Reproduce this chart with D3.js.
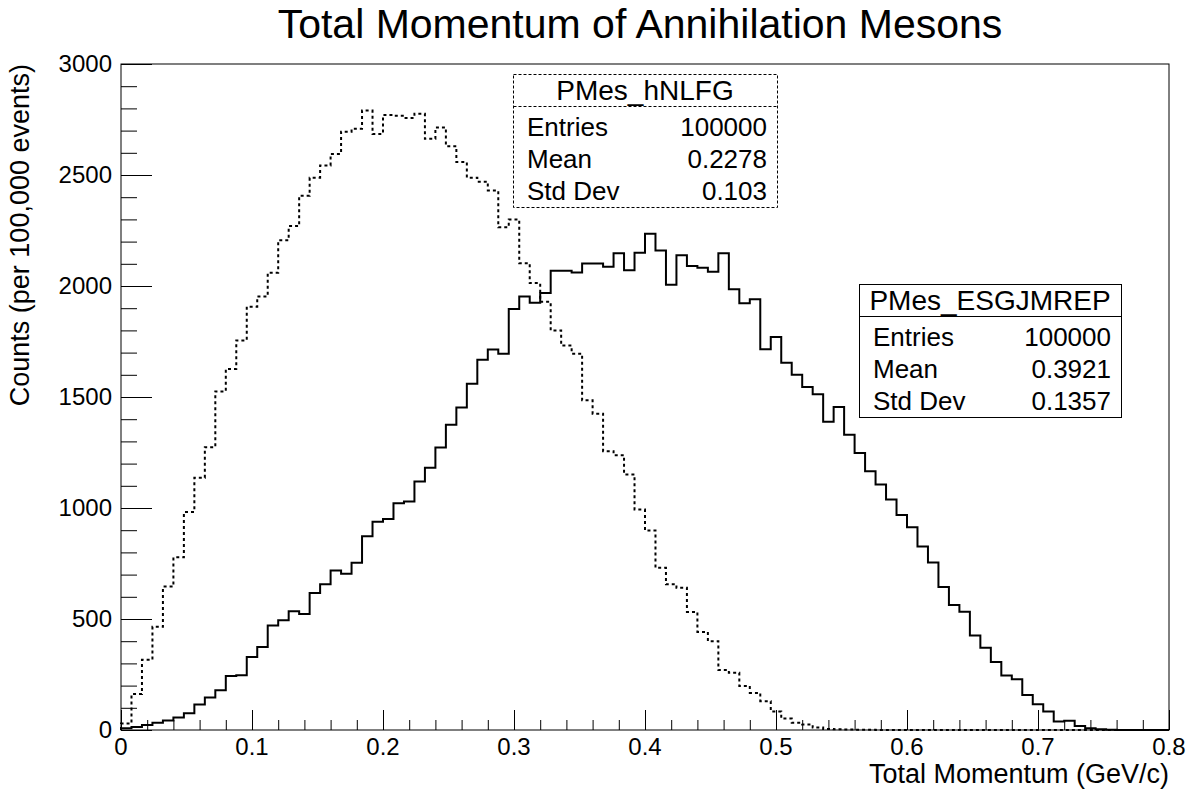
<!DOCTYPE html>
<html>
<head>
<meta charset="utf-8">
<script src="https://cdn.jsdelivr.net/npm/d3@7"></script>
<style>
  body { margin: 0; background: #fff; }
  svg { display: block; }
  text { font-family: "Liberation Sans", Arial, sans-serif; fill: #000; }
</style>
</head>
<body>
<div id="chart"></div>
<script>
// histogram contents, 100 bins from 0 to 0.8 GeV/c
var binLow = 0;
var binHigh = 0.8;

var countsNLFG = [
  29, 162, 317, 465, 646, 778, 982, 1136, 1274, 1525,
  1626, 1755, 1907, 1953, 2060, 2206, 2270, 2407, 2488, 2543,
  2595, 2695, 2708, 2790, 2685, 2770, 2767, 2757, 2776, 2663,
  2714, 2630, 2558, 2488, 2470, 2430, 2265, 2300, 2103, 2013,
  1929, 1800, 1732, 1695, 1485, 1425, 1256, 1238, 1151, 993,
  899, 731, 657, 641, 532, 442, 400, 270, 258, 198,
  167, 130, 83, 52, 33, 25, 11, 5, 3, 2,
  1, 1, 0, 0, 0, 0, 0, 0, 0, 0,
  0, 0, 0, 0, 0, 0, 0, 0, 0, 0,
  0, 0, 0, 0, 0, 0, 0, 0, 0, 0
];

var countsESGJMREP = [
  8, 14, 23, 33, 43, 56, 76, 115, 146, 179,
  243, 247, 329, 374, 471, 494, 535, 523, 617, 656,
  718, 704, 753, 873, 938, 951, 1021, 1029, 1119, 1181,
  1272, 1375, 1453, 1560, 1668, 1714, 1695, 1896, 1953, 1924,
  1969, 2069, 2069, 2061, 2101, 2101, 2087, 2147, 2071, 2150,
  2235, 2160, 2006, 2138, 2090, 2082, 2064, 2148, 1985, 1922,
  1940, 1715, 1770, 1654, 1600, 1545, 1512, 1388, 1455, 1330,
  1248, 1165, 1106, 1038, 969, 913, 827, 755, 644, 563,
  533, 426, 370, 306, 246, 229, 158, 116, 83, 38,
  42, 18, 8, 3, 1, 0, 0, 0, 0, 0
];

var xTicks = [0, 0.1, 0.2, 0.3, 0.4, 0.5, 0.6, 0.7, 0.8];
var yTicks = [0, 500, 1000, 1500, 2000, 2500, 3000];

// stat box contents
var statNames = ["Entries", "Mean", "Std Dev"];
var statsNLFG = ["100000", "0.2278", "0.103"];
var statsESGJMREP = ["100000", "0.3921", "0.1357"];

var width = 1196;
var height = 794;
// frame edges (don't call it "top", that's window.top)
var padL = 121, padR = 1169, padT = 64, padB = 730;

var svg = d3.select("#chart")
  .append("svg")
  .attr("width", width)
  .attr("height", height);

var x = d3.scaleLinear().domain([binLow, binHigh]).range([padL, padR]);
var y = d3.scaleLinear().domain([0, 3000]).range([padB, padT]);

// title
svg.append("text")
  .attr("x", 640)
  .attr("y", 38)
  .attr("text-anchor", "middle")
  .style("font-size", "41px")
  .text("Total Momentum of Annihilation Mesons");

// x axis: major every 0.1, minor every 0.02
var xAxis = d3.axisBottom(x)
  .tickValues(d3.range(0, 41).map(d => d * 0.02))
  .tickSize(0)
  .tickFormat("");
var gx = svg.append("g").attr("transform", "translate(0," + padB + ")").call(xAxis);
gx.select(".domain").remove();
gx.selectAll(".tick line")
  .attr("y2", (d, i) => i % 5 == 0 ? -20 : -10)
  .attr("stroke", "#000");

svg.append("g")
  .selectAll("text")
  .data(xTicks)
  .enter()
  .append("text")
  .attr("x", d => x(d))
  .attr("y", 755)
  .attr("text-anchor", "middle")
  .style("font-size", "24px")
  .text(d => d == 0 ? "0" : d3.format(".1f")(d));

// y axis: major every 500, minor every 100
var yAxis = d3.axisLeft(y)
  .tickValues(d3.range(0, 31).map(d => d * 100))
  .tickSize(0)
  .tickFormat("");
var gy = svg.append("g").attr("transform", "translate(" + padL + ",0)").call(yAxis);
gy.select(".domain").remove();
gy.selectAll(".tick line")
  .attr("x2", (d, i) => i % 5 == 0 ? 31 : 16)
  .attr("stroke", "#000");

svg.append("g")
  .selectAll("text")
  .data(yTicks)
  .enter()
  .append("text")
  .attr("x", 112)
  .attr("y", d => y(d) + 8)
  .attr("text-anchor", "end")
  .style("font-size", "24px")
  .text(d => d);

// axis titles
svg.append("text")
  .attr("x", padR)
  .attr("y", 783)
  .attr("text-anchor", "end")
  .style("font-size", "27px")
  .text("Total Momentum (GeV/c)");

svg.append("text")
  .attr("transform", "translate(29," + padT + ") rotate(-90)")
  .attr("text-anchor", "end")
  .style("font-size", "27px")
  .text("Counts (per 100,000 events)");

// step outline like ROOT draws it
var binWidth = (binHigh - binLow) / countsNLFG.length;
function stepPoints(counts) {
  var pts = [[binLow, 0]];
  counts.forEach(function(c, i) {
    pts.push([binLow + i * binWidth, c]);
    pts.push([binLow + (i + 1) * binWidth, c]);
  });
  pts.push([binHigh, 0]);
  return pts;
}
var line = d3.line()
  .x(d => x(d[0]))
  .y(d => y(d[1]));

svg.append("path")
  .attr("d", line(stepPoints(countsNLFG)))
  .attr("fill", "none")
  .attr("stroke", "#000")
  .attr("stroke-width", 2)
  .attr("stroke-dasharray", "3,3");

svg.append("path")
  .attr("d", line(stepPoints(countsESGJMREP)))
  .attr("fill", "none")
  .attr("stroke", "#000")
  .attr("stroke-width", 2);

// frame on top
svg.append("rect")
  .attr("x", padL)
  .attr("y", padT)
  .attr("width", padR - padL)
  .attr("height", padB - padT)
  .attr("fill", "none")
  .attr("stroke", "#000")
  .attr("stroke-width", 1);

// stat boxes
function statBox(bx, by, bw, name, values, dashed) {
  var g = svg.append("g").attr("transform", "translate(" + bx + "," + by + ")");
  g.append("rect")
    .attr("x", 0.5)
    .attr("y", 0.5)
    .attr("width", bw)
    .attr("height", 133)
    .attr("fill", "#fff")
    .attr("stroke", "#000")
    .attr("stroke-width", 1)
    .attr("stroke-dasharray", dashed ? "3,2" : null);
  g.append("line")
    .attr("x1", 0.5).attr("x2", bw + 0.5)
    .attr("y1", 32.5).attr("y2", 32.5)
    .attr("stroke", "#000")
    .attr("stroke-dasharray", dashed ? "3,2" : null);
  g.append("text")
    .attr("x", bw / 2)
    .attr("y", 26)
    .attr("text-anchor", "middle")
    .style("font-size", "28px")
    .text(name);
  statNames.forEach(function(s, i) {
    g.append("text")
      .attr("x", 14)
      .attr("y", 62 + i * 32)
      .style("font-size", "26px")
      .text(s);
    g.append("text")
      .attr("x", bw - 10)
      .attr("y", 62 + i * 32)
      .attr("text-anchor", "end")
      .style("font-size", "26px")
      .text(values[i]);
  });
}
statBox(513, 74, 264, "PMes_hNLFG", statsNLFG, true);
statBox(859, 284, 262, "PMes_ESGJMREP", statsESGJMREP, false);
</script>
</body>
</html>
